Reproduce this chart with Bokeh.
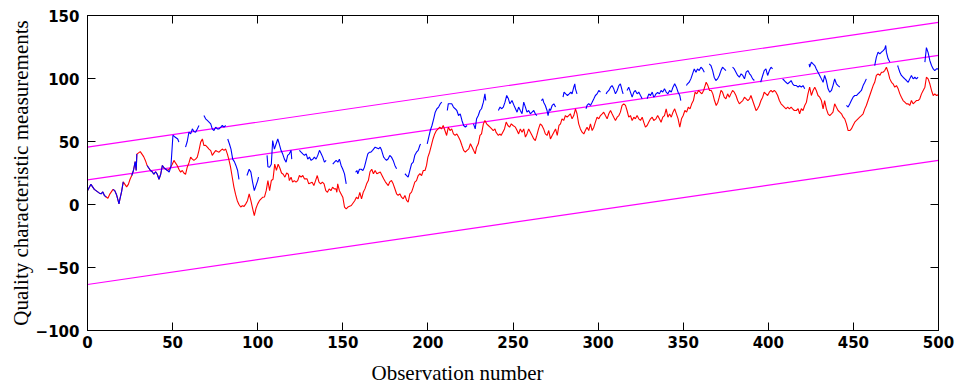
from bokeh.plotting import figure
from bokeh.models import Range1d, LinearAxis, FixedTicker, Title
from bokeh.embed import file_html
from bokeh.resources import INLINE

NaN = float("nan")

x_ticks = [0, 50, 100, 150, 200, 250, 300, 350, 400, 450, 500]
y_ticks = [-100, -50, 0, 50, 100, 150]

# control limit lines (endpoints)
limit_obs = [0, 500]
ucl = [45.5, 144.5]
center = [19.5, 118.3]
lcl = [-63.5, 35.0]

# red series (observation, value)
red_points = [
(0,11),(2,16),(4,12),(6,10),(7,9),(8,8.5),(9,10),(10,7),(11,6),(12,5),(13,8),(14,10),(15,12),(16,11),(17,8),(18,3),(18.5,0.5),(19,4),(20,10),(21,18),(22,16),(23,14),(24,16),(25,20),(26,23),(27,27),(28,34),(28.6,27),(29,40),(30,41),(31,42),(32,40),(33,38),(34,35),(35,31),(36,29),(37,27),(38,26),(39,24),(40,26),(41,24),(42,20),(43,24),(44,31),(45,29),(46,28),(47,27),(48,28),(48.8,29.6),(49.8,32),(50.8,35),(51.7,33),(52.7,31),(53.7,28),(54.7,25.7),(55.7,27),(56.6,25),(57.6,24),(58.6,29.6),(59.6,33),(60.6,37.6),(61.6,36),(62.5,35),(63.5,36),(64.5,37.6),(65.5,43),(66.5,49.5),(67.5,52),(68.4,46.8),(69.4,47),(70.4,45.5),(71.4,44),(72.4,42.8),(73.3,39),(74.3,41),(75.3,42.8),(76.3,42),(77.3,41.5),(78.3,43),(79.2,44),(80.2,43),(81.2,44),(82.2,40),(83,36),(84,30),(85,22),(86,14),(87,8),(88,3),(89,0),(90,-2),(91,-1),(92,-1.5),(93,0.5),(94,3),(95,8.4),(96,3),(97,-3),(98,-8.8),(99,-3),(100,0.5),
(101,3),(102,4.5),(103,5.8),(104,6),(105,11),(106,19),(107,11),(108,19),(109,20),(110,32),(111,27),(112,32),(113,29),(114,25),(115,24),(116,21.7),(117,25),(118,24),(118.6,19),(119.6,21.7),(120.5,17.7),(121.5,19),(122.5,17.7),(123.5,19),(124.5,23),(125.5,21.7),(126.5,23),(127.5,20.3),(129,20.3),(130,16.4),(132,17.7),(133,15),(134,19),(135,23),(136,17.7),(137,16.4),(138,17.7),(139,16.4),(140,11),(141,9.7),(142,12.4),(143,11),(144,13.7),(145,12.4),(146,12.4),(146.5,9.7),(147,16.4),(148,11),(150,5.8),(151,-2),(152,-3.5),(153,-2),(155,-0.8),(157,3),(158,5.8),(159,4.5),(160,9.7),(161,4.5),(162,9.7),(163,12.4),(164,16.4),(165,19),(166,26),(167,28),(168,24.4),(169,27),(170,24.4),(172,25.7),(174,20.4),(175,18),(176.7,15),(177.6,18),(178.6,19),(179.6,16.4),(180.6,12.5),(181.6,8.5),(182.5,7.2),(183.5,8.5),(184.5,5.8),(185.5,4.5),(186.5,7.2),(187.5,3.2),(188.4,1.9),(189.4,8.5),(190.4,9.8),(191.4,13.8),(192.3,17.7),(193.3,19),(194.3,23),(195.3,24.4),(196.3,23),(197.3,27),(198.3,27),(199.2,31),
(200,37.6),(201,41.5),(202,46.8),(203,52),(204,56),(205,58.7),(206,60),(207,61.4),(208,60),(209,62.7),(210,58.7),(211,54.8),(212,61.4),(213,58.7),(214,60),(215,56),(216,54.8),(217,56),(218,53.5),(219,50.8),(220,46.8),(221,43),(222,41.5),(223,43),(224,44.2),(225,48.2),(226,45.5),(226.8,43),(227.8,40.2),(228.6,45.5),(229.6,48.2),(230.6,54.8),(231.5,56),(232.6,64),(233.5,66.7),(234.5,64),(235.5,62.7),(236.5,61.4),(237.5,60),(238.4,58.7),(239.4,60),(240,57.4),(241.4,54.8),(242.4,56),(243,54.8),(244,57.4),(245,60),(246,65.4),(247,62.7),(248,61.4),(249,64),(250,62.7),(251.4,61.4),(252.4,58.7),(253.3,56),(254.3,60),(255.3,57.4),(256.3,60),(257.3,53.5),(258.2,56),(259.2,60),(260.2,57.4),(261.2,54.8),(262.2,52),(263.1,50.8),(264,54.8),(265,60),(266,64),(267,62.7),(268,60),(269,56),(270,54.8),(271,58.7),(272,52),(273,54.8),(274,57.4),(275,60),(276,54.8),(277,62.7),(277.9,64),(278.8,68),(279.8,66.7),(280.8,70.6),(281.8,69.3),(282.7,70.6),(283.7,72),(284.7,68),(285.7,70.6),(286.7,75.9),(287.6,72),(288.6,64),(289.6,60),(290.6,57.4),(291.6,56),(292.5,58.7),(293.5,61.4),(294.5,58.7),(295.5,64),(296.5,58.7),(297.5,61.4),(298.4,65.4),(299.4,69.3),
(300.4,68),(301.4,70.6),(302.4,72),(303.3,73.3),(304.3,70.6),(305.3,68),(306.3,72),(307.3,74.6),(308.2,72),(309.2,69.3),(310.2,66.7),(311.2,69.3),(312.2,70.6),(313.1,73.3),(314.1,78.6),(315.1,79.9),(316.1,78.6),(317,74.6),(318,69.3),(319,70.6),(320,66.7),(321,69.3),(321.9,68),(322.9,70.6),(323.9,68),(324.9,66.7),(325.9,69.3),(326.8,65.4),(327.8,61.4),(328.8,62.7),(329.8,65.4),(330.8,68),(331.8,69.3),(332.7,66.7),(334,68),(335,70.6),(336,68),(337,65.3),(338,69.3),(339,70.6),(340,75.9),(341,69.3),(342,71.9),(343,69.3),(344,73.3),(345,75.9),(346,71.9),(347,68),(348,61.4),(349,68),(350,70.6),(351,74.6),(352,73.3),(353,77.2),(354,75.9),(355,79.9),(356,82.5),(357,89.1),(358,87.8),(359,90.5),(360,89.1),(361,87.8),(362,90.5),(362.6,93.1),(363.5,97),(364.5,94.4),(365.5,90.5),(366.5,90.5),(367.4,87.8),(368.4,82.5),(369.4,78.6),(370.4,81.2),(371.2,85.2),(372.2,90.5),(373.1,89.1),(374.1,85.2),(375.1,83.9),(376.1,87.8),(377.1,85.2),(378,87.8),(379,90.5),(380,89.1),(381,86.5),(382,82.5),(383,79.9),(384,81.2),(385,82.5),(386,85.2),(387,83.9),(388,82.5),(389,83.9),(389.8,86.5),(390.8,82.5),(391.8,78.6),(392.8,74.6),(393.7,75.9),(394.7,78.6),(395.7,82.5),(396.7,85.2),(397.6,89.1),(398.6,87.8),(399.6,86.5),
(400.6,89.1),(401.6,90.5),(402.5,89.1),(403.5,90.5),(404.5,89.1),(405.5,86.5),(406.5,82.5),(407.5,79.9),(408.4,78.6),(409.4,77.2),(410.4,75.9),(411.4,77.2),(412.4,75.9),(413.4,77.2),(414.3,75.9),(415.3,74.6),(416.5,74.6),(417.5,76),(418.4,72),(419.4,76),(420.4,74.6),(421.4,78.6),(422.4,81.2),(423.3,87.8),(424.3,93.1),(425.3,86.5),(426.3,90.5),(427.3,93.1),(428.2,90.5),(429.2,86.5),(430.2,85.2),(431.2,82.5),(432.2,75.9),(433.1,82.5),(434.1,75.9),(435.1,72),(436.1,70.6),(437.1,72),(438,73.3),(439,79.9),(440,77.2),(441,74.6),(442,73.3),(443,72),(444,69.3),(444.9,68),(445.9,64),(446.9,58.7),(447.9,58.7),(448.8,60),(449.8,62.7),(450.8,65.3),(451.8,66.7),(452.7,68),(453.7,69.3),(454.7,70.6),(455.7,72),(456.7,75.9),(457.6,78.6),(458.6,82.5),(459.6,86.5),(460.6,90.5),(461.6,94.4),(462.5,97),(463.5,102.4),(464.5,103.7),(465.5,102.4),(466.5,105),(467.5,105),(468.4,106.3),(469.4,109),(470.4,105),(471.4,99.7),(472.4,97),(473.3,95.8),(474.3,93.1),(475.3,94.4),(476.3,91.8),(477.3,87.8),(478.2,85.2),(479.2,82.5),(480.2,81.2),(481.2,79.9),(482.2,79.9),(483.1,78.6),(484.1,82.5),(485.1,79.9),(486.1,81.2),(487,82.5),(488,82.5),(489,83.9),(490,87.8),(491,90.5),(492,93.1),(492.9,101),(493.9,99.7),(494.9,95.8),(495.9,90.5),(496.9,86.5),(497.8,87.8),(498.8,86.5),(499.8,87),
]

# blue series: separate segments (gaps where not plotted)
blue_segments = [
[(0,11),(2,16),(4,12),(6,10),(7,9),(8,8.5),(9,10),(10,7),(11,6)],
[(15,12),(16,11),(17,8),(18,3),(18.5,0.5),(19,4),(20,10),(21,18)],
[(26,23),(27,27),(28,34),(28.6,27),(29,40)],
[(35,31),(36,29),(37,27),(38,26),(39,24),(40,26),(41,24),(42,20),(43,24),(44,31),(45,29),(46,28),(47,27),(48,25.7),(49,30),(50.2,55),(51,54),(52,53),(53,52),(53.7,49.5)],
[(57.6,45.5),(58.6,50),(59.6,57.4),(60.6,56),(61.6,60),(62.5,58),(63.5,57.4),(64.5,60),(65.5,62.7)],
[(68.4,70.6),(69.4,68),(70.4,66.7),(71.4,65.4),(72.4,64),(73.3,60),(74.3,58.7),(75.3,61.4),(76.3,60),(77.3,60),(78.3,61.4),(79.2,62.7),(80.2,61.4),(81.2,62.7)],
[(82.4,52),(83.4,48),(84.3,44),(85.3,36),(86.3,34),(87.2,31),(88.2,27),(89,20)],
[(93.7,23),(95,28),(96,25.7),(97,17.7),(98,11),(99,15),(100,19),(100.5,21.7)],
[(105.5,39),(106,30),(107,29.6),(108,32),(108.8,50.8),(109.8,44),(110.8,48),(111.8,52),(112.7,48),(113.7,43),(114.7,40),(115.7,36),(116.7,33.6),(117.6,39),(118.6,40.2),(119.6,43),(120,36)],
[(124.5,43),(125.5,41.5),(126.5,40.2),(127.5,39),(128.5,40.2),(129.4,36),(130.4,37.6),(131.4,35),(132.4,36),(133.3,37.6),(134.3,36),(135.3,39),(136.3,43),(137.3,40.2),(138.2,37.6),(139.2,33.6),(140.2,35)],
[(144.1,32),(145.1,33.6),(146.1,35),(147.1,33.6),(148,36),(149,31),(150,28),(151,24.3),(152,16.4)],
[(157.5,25.6),(158.3,27),(158.8,24.4),(159.8,28),(160.8,28),(161.8,27),(162.7,29.6),(163.7,35),(164.7,40.2),(165.7,41.5),(166.5,41.5),(167.5,43),(169,45.5),(171,44.2),(172,45.5),(172.8,43),(174,37.6),(174.8,36.3),(175.7,35),(176.7,36.3),(177.6,39),(178.6,37.6),(179.6,35),(180.6,31),(181.6,28.3)],
[(186.5,24.4),(187.5,23),(188.4,21.7),(189.4,27),(190.4,32.3),(191.4,33.6),(192.3,39),(193.3,41.5),(194.3,43),(195.3,47),(195.7,48)],
[(199.6,48.2),(200.5,53.5),(201.4,58.7),(202.4,62.7),(203.4,68),(204.3,73.3),(205.3,76),(206.3,77.3),(207.3,80),(208.2,81.2)],
[(211.4,74.6),(212,80),(213,80),(214,80),(215,77.3),(216,76),(217,74.6),(218,70.6),(219,72),(220,66.7),(221,62.7),(222,61.4),(223,62.7)],
[(226.8,64),(227.8,60),(228.6,68),(229.6,70.6),(230.6,74.6),(231.5,76),(232.6,81.2),(233.5,87.8),(234,82.5)],
[(241.4,74.6),(242.4,77.3),(243.3,76),(244.3,77.3),(245.3,81.2),(246.3,86.5),(247.3,83.9),(248.2,79.9),(249.4,82.5),(251,77.3),(252.4,73.3),(253.3,77.3),(254.3,74.6),(255.3,72),(256.3,81.2),(257.3,77.3),(258.2,73.3),(259.2,74.6),(260.2,72),(261.2,73.3),(262.2,74.6),(263.1,72),(264,70.6)],
[(266.7,82.5),(267.5,83.9),(268,81.2),(269,78.6),(270,74.6),(270.6,70.6),(271.4,75.9),(272,74.6),(273,78.6),(274,79.9),(275,77.3)],
[(279.4,85.2),(280,89.2),(281,87.8),(282,86.5),(283,87.8),(284,89.2),(284.7,87.8),(285.7,93.1),(286.3,95.8),(286.7,91.8),(287.6,87.8)],
[(292.9,76),(293.5,78.6),(294.5,80),(295.5,78.6),(296.5,81.2),(297.5,83.9),(298.4,86.5),(299.4,87.8),(300.4,90.5),(301.4,89.2)],
[(304.7,87.8),(305.3,89.2),(306.3,90.5),(307.3,93.1),(308.2,94.4),(309.2,91.8),(310.2,87.8),(311.2,90.5),(312.2,94.4),(313.1,95.8),(314.1,90.5),(314.7,87.8)],
[(317,90.5),(318,93.1),(319,89.2),(320,85.2),(321,89.2),(321.9,90.5),(322.9,87.8),(323.9,89.2),(324.9,86.5),(325.9,83.9)],
[(328.8,83.9),(329.8,87.8),(330.8,86.5),(331.8,89.2),(332.7,85.2),(333.5,86.5),(334,87.8),(335,89),(336,87.8),(337,90.5),(338,89.2),(339,91.8),(340,89.2),(341,87.8),(342,90.5),(343,89.2),(344,93.1),(345,95.8),(346,93.1),(347,89.1),(348,86.5),(348.6,82.5)],
[(351.9,94.4),(352.5,95.8),(353.5,97),(354.5,99.7),(355.5,103.7),(356.5,107.6),(357.5,105),(358.4,107.6),(359.4,106.3),(360.4,109),(361.4,107.6),(362.4,105)],
[(365.3,111.6),(366.3,110.3),(367.3,106.3),(368.2,101),(369.2,98.4),(370.2,99.7),(371.2,102.4),(372.2,106.3),(373.1,109),(374.1,107.6),(375.1,106.3)],
[(379,109),(380,107.6),(381,105),(382,102.4),(383,101),(384,103.7),(385,102.4),(386,99.7),(387,105),(388,106.3),(389,103.7),(389.8,102.4),(390.8,99.7),(391.8,98.4)],
[(395.5,97),(396.7,102.4),(397.6,106.3),(398.6,107.6),(399.6,102.4),(400.6,106.3),(401.6,109),(402.5,107.6)],
[(408.4,99.7),(409.4,98.4),(410.4,97),(411.4,95.8),(412.4,97),(413.4,98.4),(414.3,95.8),(415.3,94.4),(416.5,94.4),(417.5,93.1),(418.4,94.4),(419.4,93.1),(420.4,94.4),(421.4,91.8)],
[(424,111.6),(424.3,109),(425.3,113),(426.3,111.6),(427.3,110.3),(428.2,107.6),(429.2,105),(430.2,102.4),(431.2,99.7),(432.2,97),(433.1,102.4),(434.1,98.4),(435.1,91.8),(436.1,89.1),(437.1,90.5),(438,94.4),(439,99.7),(440,95.8),(441,94.4),(442,93.1)],
[(445.9,78.6),(446.9,77.3),(447.9,79.9),(448.8,82.5),(449.8,85.2),(450.8,86.5),(451.8,86.5),(452.7,87.8),(453.7,89.1),(454.7,90.5),(455.7,94.4),(456.7,97),(457.6,99.7)],
[(462.5,110.3),(463.5,117),(464.5,120.9),(465.5,119.6),(466.5,120.9),(467.5,122.2),(468.4,123.5),(469,126.2),(469.4,120.9),(470.4,115.6),(471.4,113)],
[(476,110.3),(476.3,109),(477.3,105),(478.2,102.4),(479.2,101),(480.2,99.7),(481.2,98.4),(482.2,97),(483.1,99.7),(484.1,102.4),(485.1,99.7),(486.1,101),(487,99.7),(488,101)],
[(492,113),(492.9,124.5),(493.9,120.5),(494.9,114.3),(495.9,110.3),(496.9,107.6),(497.8,106.3),(498.8,107.6),(499.8,107.6)],
]

x_title = "Observation number"
y_title = "Quality characteristic measurements"

red_x = [a for a, b in red_points]
red_y = [b for a, b in red_points]
blue_x, blue_y = [], []
for seg in blue_segments:
    for a, b in seg:
        blue_x.append(a)
        blue_y.append(b)
    blue_x.append(NaN)
    blue_y.append(NaN)

p = figure(width=958, height=392,
           x_range=Range1d(0, 500), y_range=Range1d(-100, 150),
           output_backend="svg", toolbar_location=None,
           min_border_left=87, min_border_right=20,
           min_border_top=15, min_border_bottom=20)
p.xgrid.visible = False
p.ygrid.visible = False
p.outline_line_color = "black"
p.outline_line_alpha = 1
p.outline_line_width = 1
p.background_fill_color = "white"
p.border_fill_color = "white"

tick_font = "DejaVu Sans"
for ax in (p.xaxis[0], p.yaxis[0]):
    ax.major_tick_in = 8
    ax.major_tick_out = 0
    ax.minor_tick_in = 0
    ax.minor_tick_out = 0
    ax.axis_line_color = "black"
    ax.major_tick_line_color = "black"
    ax.major_label_text_font = tick_font
    ax.major_label_text_font_style = "bold"
    ax.major_label_text_font_size = "15px"
    ax.major_label_text_color = "black"

p.xaxis[0].ticker = FixedTicker(ticks=x_ticks)
p.yaxis[0].ticker = FixedTicker(ticks=y_ticks)
p.xaxis[0].major_label_standoff = 5
p.yaxis[0].major_label_standoff = 8

p.yaxis[0].axis_label = y_title
p.yaxis[0].axis_label_text_font = "Liberation Serif"
p.yaxis[0].axis_label_text_font_style = "normal"
p.yaxis[0].axis_label_text_font_size = "21px"
p.yaxis[0].axis_label_text_color = "black"
p.yaxis[0].axis_label_standoff = 0

# mirrored tick marks (top and right) drawn as label-free minor ticks
for loc, tk in (("above", x_ticks), ("right", y_ticks)):
    ax = LinearAxis(ticker=FixedTicker(ticks=[], minor_ticks=tk))
    ax.major_tick_in = 0
    ax.major_tick_out = 0
    ax.minor_tick_in = 8
    ax.minor_tick_out = 0
    ax.major_label_standoff = 0
    ax.axis_line_color = "black"
    ax.minor_tick_line_color = "black"
    p.add_layout(ax, loc)

xt = Title(text=x_title, align="left", offset=284, standoff=16,
           text_font="Liberation Serif", text_font_style="normal",
           text_font_size="21px", text_color="black")
p.add_layout(xt, "below")

p.line(limit_obs, ucl, line_color="#ff00ff", line_width=1.2)
p.line(limit_obs, center, line_color="#ff00ff", line_width=1.2)
p.line(limit_obs, lcl, line_color="#ff00ff", line_width=1.2)
p.line(red_x, red_y, line_color="#ff0000", line_width=1.1)
p.line(blue_x, blue_y, line_color="#0000ff", line_width=1.1)

open("out.html", "w").write(file_html(p, INLINE))
